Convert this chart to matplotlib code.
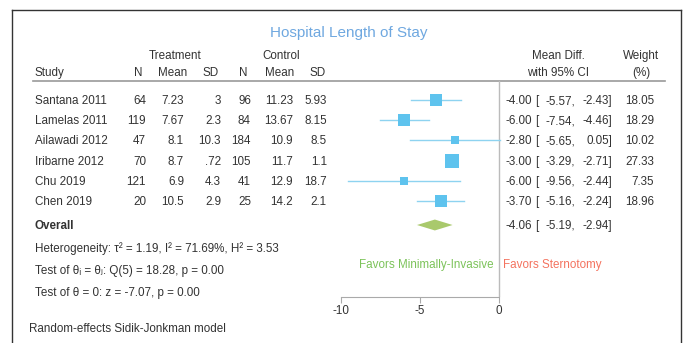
import matplotlib.pyplot as plt
from matplotlib.patches import Polygon

# 数据
studies = ['Santana 2011', 'Lamelas 2011', 'Ailawadi 2012', 'Iribarne 2012', 'Chu 2019', 'Chen 2019']
trt_n = ['64', '119', '47', '70', '121', '20']
trt_mean = ['7.23', '7.67', '8.1', '8.7', '6.9', '10.5']
trt_sd = ['3', '2.3', '10.3', '.72', '4.3', '2.9']
ctl_n = ['96', '84', '184', '105', '41', '25']
ctl_mean = ['11.23', '13.67', '10.9', '11.7', '12.9', '14.2']
ctl_sd = ['5.93', '8.15', '8.5', '1.1', '18.7', '2.1']
md = [-4.00, -6.00, -2.80, -3.00, -6.00, -3.70]
ci_lo = [-5.57, -7.54, -5.65, -3.29, -9.56, -5.16]
ci_hi = [-2.43, -4.46, 0.05, -2.71, -2.44, -2.24]
weights = [18.05, 18.29, 10.02, 27.33, 7.35, 18.96]
overall = (-4.06, -5.19, -2.94)
ticks = [-10, -5, 0]

plt.rcParams['font.family'] = ['Liberation Sans', 'DejaVu Sans']
txt_c = '#333333'
sq_c = '#5ec3ee'
ci_c = '#8ed3f0'

fig = plt.figure(figsize=(6.85, 3.43), dpi=100)
W, H = 685, 343

# 文字层，像素坐标（y 向下）
ov = fig.add_axes([0, 0, 1, 1])
ov.set_xlim(0, W)
ov.set_ylim(H, 0)
ov.axis('off')

fs = 8.4
base = 4  # 文字中心到基线的像素偏移


def put(x, y, s, ha='left', **kw):
    kw.setdefault('color', txt_c)
    kw.setdefault('fontsize', fs)
    ov.text(x, y + base, s, ha=ha, va='baseline', **kw)


# 森林图坐标轴
px_per = 15.8
x0_px = 499
ax_l, ax_r = 330, 507
ax_t, ax_b = 81, 297
row0, dy = 100, 20.2
ax = fig.add_axes([ax_l / W, 1 - ax_b / H, (ax_r - ax_l) / W, (ax_b - ax_t) / H])
ax.set_xlim((ax_l - x0_px) / px_per, (ax_r - x0_px) / px_per)
ax.set_ylim((ax_b - row0) / dy, (ax_t - row0) / dy)
ax.patch.set_alpha(0)
for s in ['top', 'left', 'right']:
    ax.spines[s].set_visible(False)
ax.spines['bottom'].set_bounds(-10, 0)
ax.spines['bottom'].set_color('#aaaaaa')
ax.set_yticks([])
ax.set_xticks(ticks)
ax.set_xticklabels([str(t) for t in ticks])
ax.tick_params(axis='x', colors='#aaaaaa', labelcolor=txt_c, labelsize=fs, length=4, pad=2)
ax.axvline(0, color='#bbbbbb', lw=1)

for i in range(len(studies)):
    ax.plot([ci_lo[i], ci_hi[i]], [i, i], color=ci_c, lw=1, clip_on=False, zorder=2)
    ax.plot(md[i], i, 's', color=sq_c, ms=1.865 * weights[i] ** 0.5, mew=0, zorder=3)

oy = (225 - row0) / dy
h = 0.27
ax.add_patch(Polygon([(overall[1], oy), (overall[0], oy - h), (overall[2], oy), (overall[0], oy + h)],
                     closed=True, color='#a9c96c', lw=0))

# 边框
ov.plot([12, 12], [H + 5, 10], color='#333333', lw=1, clip_on=False)
ov.plot([12, 681], [10, 10], color='#333333', lw=1)
ov.plot([681, 681], [10, H + 5], color='#333333', lw=1, clip_on=False)

ov.text(349, 33, 'Hospital Length of Stay', color='#6fa8e0', fontsize=11, ha='center', va='center')

# 表头
put(175, 55, 'Treatment', ha='center')
put(281, 55, 'Control', ha='center')
put(558, 55, 'Mean Diff.', ha='center')
put(641, 55, 'Weight', ha='center')
put(35, 72, 'Study')
for x, lab in zip([138, 173, 211, 243, 280, 318], ['N', 'Mean', 'SD', 'N', 'Mean', 'SD']):
    put(x, 72, lab, ha='center')
put(558, 72, 'with 95% CI', ha='center')
put(641, 72, '(%)', ha='center')
ov.plot([33, 665], [81, 81], color='#999999', lw=1.2)

# 各研究行
cols_r = [146, 184, 221, 251, 293, 327]
for i in range(len(studies)):
    y = row0 + dy * i
    put(35, y, studies[i])
    for x, col in zip(cols_r, [trt_n, trt_mean, trt_sd, ctl_n, ctl_mean, ctl_sd]):
        put(x, y, col[i], ha='right')
    put(532, y, f'{md[i]:.2f}', ha='right')
    put(535, y, '[')
    put(575, y, f'{ci_lo[i]:.2f},', ha='right')
    put(612, y, f'{ci_hi[i]:.2f}]', ha='right')
    put(654, y, f'{weights[i]:.2f}', ha='right')

y = 225
put(35, y, 'Overall', fontweight='bold')
put(532, y, f'{overall[0]:.2f}', ha='right')
put(535, y, '[')
put(575, y, f'{overall[1]:.2f},', ha='right')
put(612, y, f'{overall[2]:.2f}]', ha='right')

put(35, 248, 'Heterogeneity: τ² = 1.19, I² = 71.69%, H² = 3.53')
put(35, 270, 'Test of θᵢ = θⱼ: Q(5) = 18.28, p = 0.00')
put(35, 292, 'Test of θ = 0: z = -7.07, p = 0.00')

put(494, 264, 'Favors Minimally-Invasive', ha='right', color='#7cc35a')
put(503, 264, 'Favors Sternotomy', color='#f4735f')

put(29, 328, 'Random-effects Sidik-Jonkman model')

fig.savefig('out.png', dpi=100)
